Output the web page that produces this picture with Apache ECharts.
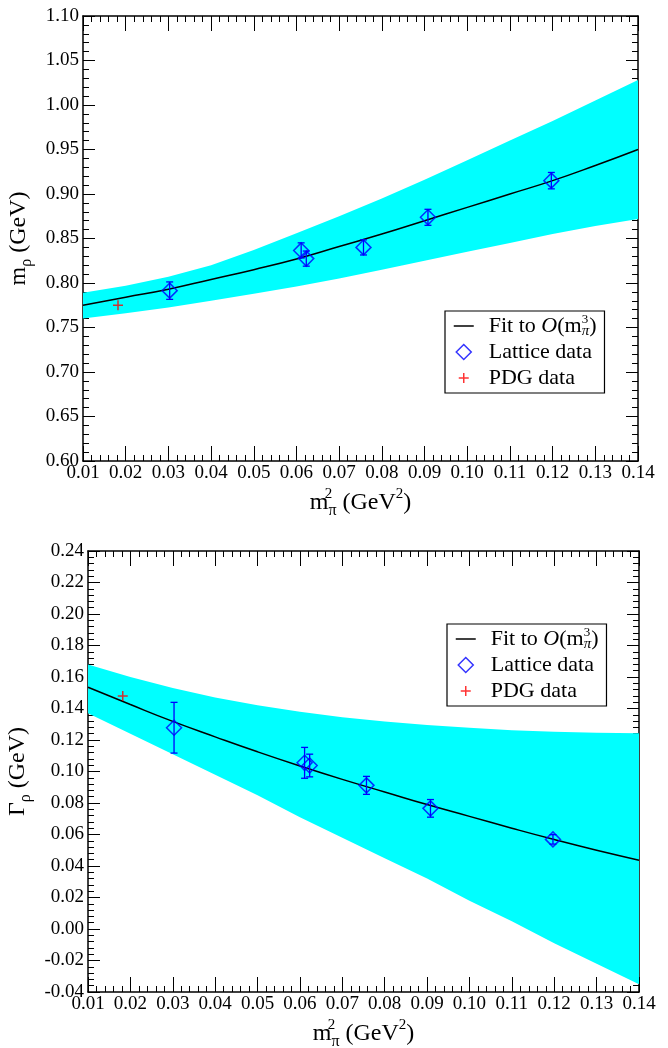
<!DOCTYPE html>
<html><head><meta charset="utf-8">
<script src="https://cdn.jsdelivr.net/npm/echarts@6/dist/echarts.min.js"></script>
<style>html,body{margin:0;padding:0;background:#fff}#c{width:668px;height:1048px}</style>
</head><body><div id="c"></div>
<script>
// ---- data ----
const xGrid = [0.01,0.02,0.03,0.04,0.05,0.06,0.07,0.08,0.09,0.10,0.11,0.12,0.13,0.14];
// rho mass panel
const rhoFit    = [0.775,0.784,0.793,0.804,0.815,0.827,0.841,0.855,0.870,0.885,0.900,0.915,0.932,0.950];
const rhoBandHi = [0.789,0.797,0.807,0.820,0.837,0.856,0.875,0.895,0.916,0.938,0.960,0.982,1.005,1.028];
const rhoBandLo = [0.760,0.766,0.7725,0.780,0.788,0.796,0.805,0.815,0.825,0.835,0.845,0.855,0.864,0.872];
const latX   = [0.0303,0.0611,0.0623,0.0757,0.0908,0.1197];
const rhoLat = [0.7914,0.8366,0.8274,0.8400,0.8738,0.9150];
const rhoErr = [0.0098,0.0085,0.0085,0.0085,0.0090,0.0092];
const pdgX = [0.0182];
const pdgRho = [0.775];
// rho width panel
const gamFit    = [0.1535,0.1425,0.1318,0.1220,0.1125,0.1035,0.0950,0.0870,0.0790,0.0715,0.0640,0.0568,0.0500,0.0437];
const gamBandHi = [0.168,0.160,0.153,0.147,0.142,0.138,0.1345,0.1318,0.1295,0.1277,0.1262,0.1252,0.1246,0.1243];
const gamBandLo = [0.137,0.124,0.111,0.098,0.085,0.071,0.058,0.045,0.032,0.018,0.005,-0.009,-0.022,-0.035];
const gamLat = [0.1278,0.1055,0.1038,0.0912,0.0766,0.0569];
const gamErr = [0.0161,0.0098,0.0072,0.0057,0.0056,0.0030];
const pdgGam = [0.148];
// axes
const xMin = 0.01, xMax = 0.14, xStep = 0.01;
const rhoMin = 0.60, rhoMax = 1.10, rhoStep = 0.05;
const gamMin = -0.04, gamMax = 0.24, gamStep = 0.02;

const FIT = 'Fit', LAT = 'Lattice data', PDG = 'PDG data';
const FONT = '"Liberation Serif", "DejaVu Serif", serif';
const BLUE = '#0000ff', RED = '#ff0000', CYAN = '#00ffff';

const chart = echarts.init(document.getElementById('c'), null, {renderer: 'canvas'});

const titleRich = {
  b:   {fontFamily: FONT, fontSize: 24, color: '#000', lineHeight: 32},
  sup0:{fontFamily: FONT, fontSize: 15, color: '#000', width: 0, verticalAlign: 'top', lineHeight: 15},
  sup: {fontFamily: FONT, fontSize: 15, color: '#000', verticalAlign: 'top', lineHeight: 15},
  sub: {fontFamily: FONT, fontSize: 16, color: '#000', verticalAlign: 'bottom', lineHeight: 11}
};

function xAxes(gi) {
  const base = {type: 'value', gridIndex: gi, min: xMin, max: xMax, interval: xStep,
    splitLine: {show: false},
    axisLine: {onZero: false, lineStyle: {color: '#000', width: 1.5}},
    axisTick: {inside: true, length: 15, lineStyle: {color: '#000', width: 1}},
    minorTick: {show: true, splitNumber: 5, length: 6, lineStyle: {color: '#000', width: 1}}};
  return [
    Object.assign({}, base, {position: 'bottom',
      axisLabel: {formatter: v => v.toFixed(2), fontFamily: FONT, fontSize: 19, color: '#000', margin: 3},
      name: '{b|m}{sup0|2}{sub|π}{b| (GeV}{sup|2}{b|)}', nameLocation: 'middle', nameGap: 26,
      nameTextStyle: {rich: titleRich}}),
    Object.assign({}, base, {position: 'top', axisLabel: {show: false}})
  ];
}
function yAxes(gi, mn, mx, st, name) {
  const base = {type: 'value', gridIndex: gi, min: mn, max: mx, interval: st,
    splitLine: {show: false},
    axisLine: {onZero: false, lineStyle: {color: '#000', width: 1.5}},
    axisTick: {inside: true, length: 12, lineStyle: {color: '#000', width: 1}},
    minorTick: {show: true, splitNumber: 5, length: 6, lineStyle: {color: '#000', width: 1}}};
  return [
    Object.assign({}, base, {position: 'left',
      axisLabel: {formatter: v => v.toFixed(2), fontFamily: FONT, fontSize: 19, color: '#000', margin: 4},
      name: name, nameLocation: 'middle', nameGap: 44, nameRotate: 90,
      nameTextStyle: {rich: titleRich}}),
    Object.assign({}, base, {position: 'right', axisLabel: {show: false}})
  ];
}

function bandSeries(xi, yi, hi, lo) {
  return {type: 'custom', xAxisIndex: xi, yAxisIndex: yi, silent: true, z: 1,
    data: [[xGrid[0], hi[0]]],
    renderItem: function (params, api) {
      const pts = [];
      for (let i = 0; i < xGrid.length; i++) pts.push(api.coord([xGrid[i], hi[i]]));
      for (let i = xGrid.length - 1; i >= 0; i--) pts.push(api.coord([xGrid[i], lo[i]]));
      return {type: 'polygon', shape: {points: pts}, style: {fill: CYAN}};
    }};
}
function fitSeries(xi, yi, ys) {
  return {type: 'line', name: FIT, xAxisIndex: xi, yAxisIndex: yi, z: 2, smooth: true,
    symbol: 'none', lineStyle: {color: '#000', width: 1.5}, itemStyle: {color: '#000'},
    data: xGrid.map((x, i) => [x, ys[i]])};
}
function errSeries(xi, yi, ys, es) {
  return {type: 'custom', xAxisIndex: xi, yAxisIndex: yi, z: 3, silent: true,
    data: latX.map((x, i) => [x, ys[i] - es[i], ys[i] + es[i]]),
    encode: {x: 0, y: [1, 2]},
    renderItem: function (params, api) {
      const lo = api.coord([api.value(0), api.value(1)]);
      const hi = api.coord([api.value(0), api.value(2)]);
      const w = 3.5, st = {stroke: BLUE, lineWidth: 1.3};
      return {type: 'group', children: [
        {type: 'line', shape: {x1: lo[0], y1: lo[1], x2: hi[0], y2: hi[1]}, style: st},
        {type: 'line', shape: {x1: lo[0] - w, y1: lo[1], x2: lo[0] + w, y2: lo[1]}, style: st},
        {type: 'line', shape: {x1: hi[0] - w, y1: hi[1], x2: hi[0] + w, y2: hi[1]}, style: st}]};
    }};
}
function latSeries(xi, yi, ys) {
  return {type: 'scatter', name: LAT, xAxisIndex: xi, yAxisIndex: yi, z: 4,
    symbol: 'diamond', symbolSize: 15,
    itemStyle: {color: 'rgba(0,0,0,0)', borderColor: BLUE, borderWidth: 1.5},
    data: latX.map((x, i) => [x, ys[i]])};
}
function pdgSeries(xi, yi, ys) {
  return {type: 'scatter', name: PDG, xAxisIndex: xi, yAxisIndex: yi, z: 4,
    symbol: 'path://M0,5L10,5M5,0L5,10', symbolSize: 10,
    itemStyle: {color: 'rgba(0,0,0,0)', borderColor: RED, borderWidth: 1.5},
    data: pdgX.map((x, i) => [x, ys[i]])};
}

const legendBase = {
  orient: 'vertical', backgroundColor: '#fff', borderColor: '#000', borderWidth: 1.2, borderRadius: 0,
  padding: [2, 8, 2, 7], itemGap: 0, itemWidth: 22, itemHeight: 15, selectedMode: false,
  textStyle: {fontFamily: FONT, fontSize: 22, color: '#000', lineHeight: 26, padding: [0, 0, 0, 9],
    rich: {
      i:   {fontFamily: FONT, fontSize: 22, fontStyle: 'italic', color: '#000', lineHeight: 26},
      sup0:{fontFamily: FONT, fontSize: 13, color: '#000', width: 0, verticalAlign: 'top', lineHeight: 13},
      sub: {fontFamily: FONT, fontSize: 15, fontStyle: 'italic', color: '#000', verticalAlign: 'bottom', lineHeight: 10}
    }},
  formatter: n => n === FIT ? 'Fit to {i|O}(m{sup0|3}{sub|π})' : n,
  data: [
    {name: FIT, icon: 'path://M0,0M22,15M1,7.5L21,7.5',
      itemStyle: {color: 'rgba(0,0,0,0)', borderColor: '#000', borderWidth: 1.5}},
    {name: LAT, icon: 'path://M0,0M22,15M11,0L18.5,7.5L11,15L3.5,7.5Z',
      itemStyle: {color: 'rgba(0,0,0,0)', borderColor: BLUE, borderWidth: 1.5}},
    {name: PDG, icon: 'path://M0,0M22,15M6,7.5L16,7.5M11,2.5L11,12.5',
      itemStyle: {color: 'rgba(0,0,0,0)', borderColor: RED, borderWidth: 1.5}}
  ]
};

const option = {
  animation: false,
  backgroundColor: '#fff',
  grid: [
    {left: 83, top: 16, width: 555, height: 445, outerBoundsMode: 'none'},
    {left: 88, top: 551, width: 551, height: 441, outerBoundsMode: 'none'}
  ],
  xAxis: [].concat(xAxes(0), xAxes(1)),
  yAxis: [].concat(
    yAxes(0, rhoMin, rhoMax, rhoStep, '{b|m}{sub|ρ}{b| (GeV)}'),
    yAxes(1, gamMin, gamMax, gamStep, '{b|Γ}{sub|ρ}{b| (GeV)}')),
  legend: [
    Object.assign({}, legendBase, {left: 445, top: 311}),
    Object.assign({}, legendBase, {left: 447, top: 624})
  ],
  series: [
    bandSeries(0, 0, rhoBandHi, rhoBandLo),
    fitSeries(0, 0, rhoFit),
    errSeries(0, 0, rhoLat, rhoErr),
    latSeries(0, 0, rhoLat),
    pdgSeries(0, 0, pdgRho),
    bandSeries(2, 2, gamBandHi, gamBandLo),
    fitSeries(2, 2, gamFit),
    errSeries(2, 2, gamLat, gamErr),
    latSeries(2, 2, gamLat),
    pdgSeries(2, 2, pdgGam)
  ]
};
chart.setOption(option);
</script>
</body></html>
